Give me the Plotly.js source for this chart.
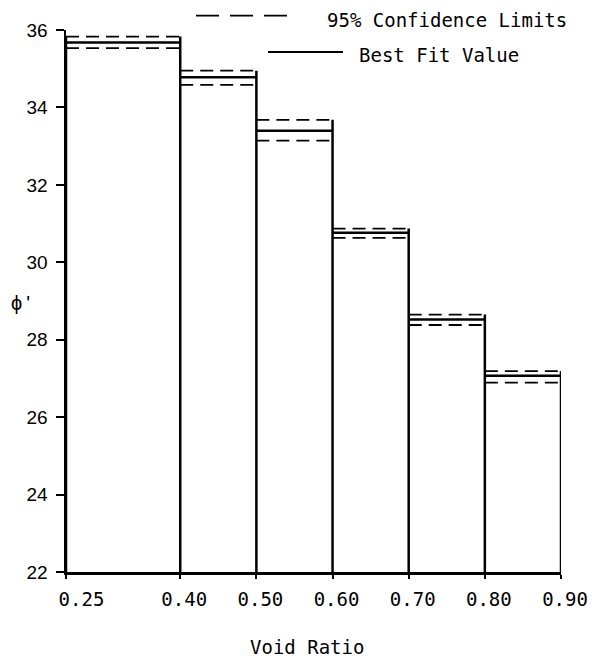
<!DOCTYPE html>
<html>
<head>
<meta charset="utf-8">
<script src="https://cdn.plot.ly/plotly-3.0.1.min.js"></script>
<style>
  html, body { margin: 0; padding: 0; background: #fff; }
  #chart { width: 592px; height: 659px; }
</style>
</head>
<body>
<div id="chart"></div>
<script>
// ---- data ----
const edges = [0.25, 0.40, 0.50, 0.60, 0.70, 0.80, 0.90];
const edgeLabels = ['\u00a0\u00a00.25', '0.40', '0.50', '0.60', '0.70', '0.80', '0.90'];
const bestFit = [35.68, 34.78, 33.40, 30.76, 28.52, 27.07];
const upperLimit = [35.83, 34.95, 33.68, 30.87, 28.65, 27.19];
const lowerLimit = [35.53, 34.58, 33.14, 30.63, 28.38, 26.89];
const yTicks = [22, 24, 26, 28, 30, 32, 34, 36];
const yBase = 22;

const MONO = 'DejaVu Sans Mono, monospace';
const SANS = 'Liberation Sans, Arial, sans-serif';

function stepSegments(vals) {
  const x = [], y = [];
  for (let i = 0; i < vals.length; i++) {
    x.push(edges[i], edges[i + 1], null);
    y.push(vals[i], vals[i], null);
  }
  return { x, y };
}

const best = stepSegments(bestFit);
const up = stepSegments(upperLimit);
const lo = stepSegments(lowerLimit);

// vertical bin edges from base up to the upper limit of the bin on their left
const vx = [], vy = [];
for (let j = 1; j < edges.length; j++) {
  vx.push(edges[j], edges[j], null);
  vy.push(yBase, upperLimit[j - 1], null);
}
vx.push(edges[0], edges[0], null);
vy.push(yBase, upperLimit[0], null);

const traces = [
  { x: vx, y: vy, mode: 'lines', line: { color: '#000', width: 2.5 }, cliponaxis: false, hoverinfo: 'skip', showlegend: false },
  { x: best.x, y: best.y, mode: 'lines', line: { color: '#000', width: 2.5 }, cliponaxis: false, showlegend: false },
  { x: up.x, y: up.y, mode: 'lines', line: { color: '#000', width: 1.8, dash: '13px,7px' }, cliponaxis: false, showlegend: false },
  { x: lo.x, y: lo.y, mode: 'lines', line: { color: '#000', width: 1.8, dash: '13px,7px' }, cliponaxis: false, showlegend: false }
];

const layout = {
  width: 592, height: 659,
  margin: { l: 66, r: 31, t: 30, b: 87 },
  paper_bgcolor: '#fff', plot_bgcolor: '#fff',
  showlegend: false,
  xaxis: {
    range: [0.25, 0.90], showgrid: false, zeroline: false,
    showline: true, linecolor: '#000', linewidth: 2.5,
    ticks: 'outside', ticklen: 4, tickwidth: 2, tickcolor: '#000',
    tickvals: edges, ticktext: edgeLabels,
    tickfont: { family: MONO, size: 19, color: '#000' },
    ticklabelstandoff: 5, ticklabelshift: 4
  },
  yaxis: {
    range: [22, 36], showgrid: false, zeroline: false,
    showline: true, linecolor: '#000', linewidth: 2.5,
    ticks: 'outside', ticklen: 8, tickwidth: 2, tickcolor: '#000',
    tickvals: yTicks,
    tickfont: { family: SANS, size: 19, color: '#000' },
    ticklabelstandoff: 4
  },
  shapes: [
    { type: 'line', xref: 'paper', yref: 'paper', x0: 0.2626, x1: 0.4485, y0: 1.0264, y1: 1.0264,
      line: { color: '#000', width: 1.8, dash: '23px,11px' } },
    { type: 'line', xref: 'paper', yref: 'paper', x0: 0.408, x1: 0.5596, y0: 0.9594, y1: 0.9594,
      line: { color: '#000', width: 2 } }
  ],
  annotations: [
    { xref: 'paper', yref: 'paper', x: 0.523, y: 1.019, xanchor: 'left', yanchor: 'middle', showarrow: false,
      text: '95% Confidence Limits', font: { family: MONO, size: 19, color: '#000' } },
    { xref: 'paper', yref: 'paper', x: 0.588, y: 0.954, xanchor: 'left', yanchor: 'middle', showarrow: false,
      text: 'Best Fit Value', font: { family: MONO, size: 19, color: '#000' } },
    { xref: 'paper', yref: 'paper', x: 0.486, y: -0.1384, xanchor: 'center', yanchor: 'middle', showarrow: false,
      text: 'Void Ratio', font: { family: MONO, size: 19, color: '#000' } },
    { xref: 'paper', yref: 'paper', x: -0.091, y: 0.496, xanchor: 'center', yanchor: 'middle', showarrow: false,
      text: "\u03d5\u2009'", font: { family: SANS, size: 20, color: '#000' } }
  ]
};

Plotly.newPlot('chart', traces, layout, { displayModeBar: false, staticPlot: true });
</script>
</body>
</html>
